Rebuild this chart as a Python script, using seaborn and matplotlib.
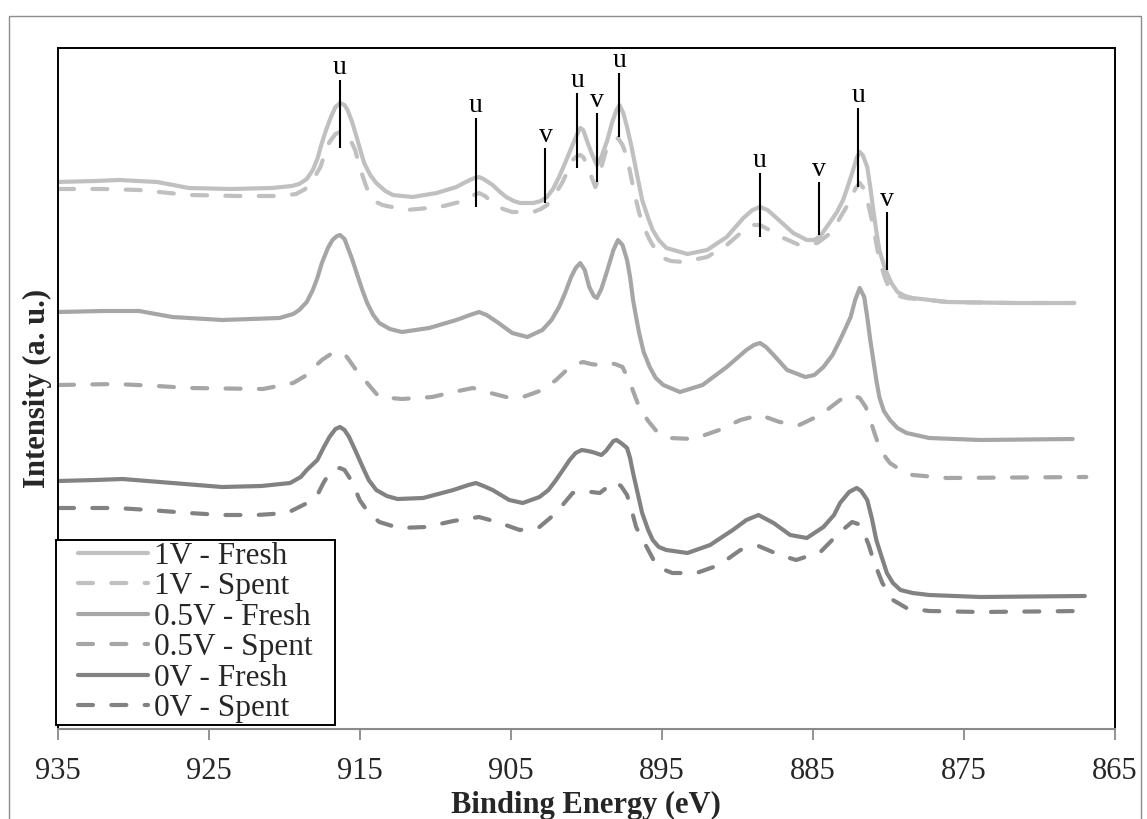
import matplotlib
matplotlib.use("Agg")
import matplotlib.pyplot as plt
import seaborn as sns
from matplotlib.lines import Line2D
from matplotlib.legend_handler import HandlerLine2D
from matplotlib.patches import Rectangle

# ---------------- data: (binding energy eV, intensity a.u.) ----------------
fresh_1v = [(935.0, 563), (932.5, 564), (930.9, 565), (928.4, 563), (926.3, 557), (923.5, 556), (920.8, 557),
            (919.5, 559), (919.0, 561), (918.5, 566), (918.1, 575), (917.8, 586), (917.5, 602), (917.2, 616),
            (916.9, 628), (916.6, 638), (916.3, 642), (916.0, 640), (915.8, 635), (915.5, 623), (915.2, 608),
            (914.9, 592), (914.7, 582), (914.3, 570), (913.9, 562), (913.3, 554), (912.8, 550), (911.5, 548),
            (909.9, 552), (908.6, 558), (908.1, 562), (907.7, 565), (907.4, 567), (907.1, 568), (906.8, 566),
            (906.5, 563), (906.2, 560), (905.7, 553), (905.3, 548), (904.8, 544), (904.4, 542), (903.5, 542),
            (903.0, 544), (902.6, 548), (902.2, 556), (901.8, 568), (901.4, 582), (901.1, 593), (900.8, 604),
            (900.6, 611), (900.4, 617), (900.2, 615), (899.9, 602), (899.6, 590), (899.3, 580), (899.0, 588),
            (898.6, 605), (898.3, 622), (898.0, 635), (897.8, 640), (897.55, 632), (897.3, 618), (897.0, 598),
            (896.7, 575), (896.3, 545), (895.9, 527), (895.6, 515), (895.2, 505), (894.7, 497), (893.3, 491),
            (892.0, 495), (890.7, 508), (889.6, 527), (889.0, 535), (888.5, 538), (888.0, 535), (887.4, 527),
            (886.3, 512), (885.4, 505), (884.9, 505), (884.5, 509), (883.9, 522), (883.4, 533), (883.0, 545),
            (882.7, 558), (882.4, 572), (882.1, 587), (881.9, 593), (881.7, 590), (881.4, 578), (881.2, 558),
            (881.0, 535), (880.8, 514), (880.6, 495), (880.3, 480), (880.1, 472), (879.8, 462), (879.4, 453),
            (878.9, 449), (878.4, 447), (876.1, 443), (871.8, 442), (867.7, 442)]

spent_1v = [(934.9, 556), (932.0, 556), (929.6, 555), (926.3, 550), (923.0, 549), (920.3, 549), (919.2, 551),
            (918.6, 556), (918.3, 562), (917.9, 570), (917.6, 578), (917.3, 591), (917.0, 603), (916.6, 611),
            (916.3, 613), (916.0, 612), (915.7, 608), (915.3, 595), (915.0, 578), (914.6, 560), (914.3, 548),
            (913.9, 543), (913.5, 540), (911.9, 535), (909.7, 538), (908.4, 543), (907.6, 549), (907.1, 552),
            (906.7, 549), (906.2, 542), (905.5, 536), (904.9, 533), (903.5, 533), (903.0, 536), (902.6, 540),
            (902.1, 550), (901.6, 562), (901.2, 575), (900.9, 585), (900.6, 589), (900.4, 590), (900.2, 588),
            (900.0, 582), (899.7, 570), (899.4, 558), (899.2, 565), (899.0, 578), (898.7, 594), (898.4, 602),
            (898.1, 606), (897.9, 607), (897.6, 600), (897.3, 588), (897.1, 573), (896.9, 558), (896.5, 532),
            (896.1, 515), (895.8, 505), (895.4, 495), (895.1, 488), (894.4, 484), (893.6, 483), (892.0, 488),
            (890.7, 500), (889.4, 517), (888.9, 520), (888.5, 520), (888.0, 516), (887.4, 510), (885.9, 500),
            (884.7, 502), (884.0, 510), (883.4, 522), (882.9, 535), (882.5, 545), (882.2, 556), (881.9, 562),
            (881.6, 556), (881.4, 545), (881.2, 532), (881.0, 518), (880.6, 485), (880.2, 466), (879.9, 455),
            (879.3, 449), (878.8, 447), (876.1, 443), (871.8, 442), (867.7, 442)]

fresh_05v = [(935.0, 433), (932.0, 434), (929.6, 434), (927.4, 428), (924.1, 425), (920.3, 427), (919.4, 431),
             (919.0, 435), (918.5, 443), (918.1, 455), (917.8, 467), (917.5, 482), (917.1, 497), (916.8, 505),
             (916.5, 509), (916.3, 510), (916.0, 506), (915.8, 498), (915.5, 486), (915.2, 472), (914.8, 454),
             (914.5, 442), (914.1, 430), (913.7, 422), (913.0, 416), (912.2, 413), (910.4, 417), (908.6, 425),
             (907.7, 430), (907.1, 433), (906.6, 430), (905.9, 423), (904.9, 412), (903.9, 408), (902.9, 415),
             (902.3, 425), (901.8, 438), (901.4, 452), (901.0, 468), (900.7, 477), (900.4, 482), (900.1, 475),
             (899.8, 458), (899.5, 449), (899.3, 447), (899.0, 456), (898.6, 475), (898.2, 495), (897.9, 505),
             (897.6, 500), (897.3, 485), (897.1, 468), (896.9, 445), (896.7, 428), (896.5, 412), (896.2, 393),
             (895.8, 378), (895.4, 367), (894.9, 360), (893.8, 353), (892.3, 360), (890.7, 378), (889.4, 395),
             (888.9, 400), (888.5, 402), (888.1, 398), (887.6, 390), (886.7, 375), (885.5, 368), (884.9, 370),
             (884.3, 378), (883.7, 390), (883.2, 405), (882.8, 418), (882.5, 428), (882.2, 445), (881.9, 457),
             (881.6, 448), (881.4, 428), (881.2, 405), (881.0, 385), (880.8, 365), (880.6, 348), (880.3, 334),
             (879.9, 325), (879.4, 317), (878.8, 312), (877.3, 307), (873.9, 305), (867.8, 306)]

spent_05v = [(934.9, 360), (931.1, 361), (928.4, 359), (926.3, 357), (921.4, 356), (919.4, 362), (918.5, 370),
             (918.0, 378), (917.5, 385), (916.9, 391), (916.3, 393), (915.9, 389), (915.7, 385), (915.1, 372),
             (914.5, 362), (914.0, 353), (913.7, 348), (912.2, 346), (910.2, 348), (908.8, 353), (907.5, 357),
             (906.6, 353), (905.3, 348), (904.2, 348), (902.9, 355), (902.0, 365), (901.3, 375), (900.7, 381),
             (900.2, 383), (899.7, 381), (899.2, 380), (898.6, 382), (898.1, 381), (897.6, 378), (897.1, 362),
             (896.8, 350), (896.5, 338), (895.9, 324), (895.3, 313), (894.5, 307), (892.9, 306), (891.2, 315),
             (889.8, 325), (888.5, 330), (887.2, 323), (885.9, 320), (884.5, 330), (883.2, 345), (882.4, 350),
             (881.9, 347), (881.5, 338), (881.2, 325), (880.9, 311), (880.6, 298), (880.2, 288), (879.9, 282),
             (879.2, 275), (878.4, 270), (876.1, 267), (866.9, 268)]

fresh_0v = [(935.0, 264), (932.5, 265), (930.7, 266), (927.4, 262), (924.1, 258), (921.5, 259), (919.6, 262),
            (918.9, 268), (918.5, 275), (917.8, 285), (917.4, 297), (917.0, 308), (916.6, 316), (916.3, 318),
            (916.0, 315), (915.7, 308), (915.3, 295), (914.8, 278), (914.4, 265), (913.9, 255), (913.2, 249),
            (912.5, 246), (910.8, 247), (908.8, 255), (907.8, 260), (907.3, 262), (906.8, 259), (906.2, 255),
            (905.1, 245), (904.2, 242), (903.1, 248), (902.5, 255), (902.0, 265), (901.5, 276), (901.1, 285),
            (900.7, 292), (900.3, 295), (899.9, 294), (899.6, 293), (899.0, 290), (898.7, 294), (898.4, 300),
            (898.2, 304), (898.0, 305), (897.7, 302), (897.3, 297), (897.1, 287), (896.9, 272), (896.6, 252),
            (896.3, 232), (895.9, 215), (895.6, 205), (895.2, 198), (894.7, 195), (893.3, 192), (891.8, 200),
            (890.3, 215), (889.4, 225), (888.6, 230), (887.6, 222), (886.5, 210), (885.4, 207), (884.3, 218),
            (883.6, 230), (883.2, 242), (882.6, 253), (882.1, 257), (881.8, 254), (881.4, 245), (881.1, 227),
            (880.8, 205), (880.4, 186), (880.1, 172), (879.7, 162), (879.2, 155), (878.4, 152), (877.3, 150),
            (873.9, 148), (867.0, 149)]

spent_0v = [(934.9, 237), (931.1, 237), (928.9, 235), (926.3, 232), (924.1, 230), (921.8, 230), (919.8, 232),
            (919.4, 235), (918.6, 241), (917.8, 250), (917.4, 262), (917.0, 272), (916.6, 276), (916.3, 277),
            (916.0, 275), (915.7, 268), (915.3, 256), (915.0, 245), (914.4, 232), (913.7, 223), (912.4, 217),
            (910.6, 218), (908.8, 224), (907.1, 228), (905.9, 223), (904.4, 215), (903.1, 218), (902.0, 232),
            (901.4, 243), (900.9, 252), (900.2, 254), (899.1, 252), (898.6, 258), (898.1, 263), (897.7, 259),
            (897.3, 250), (897.0, 235), (896.7, 218), (896.3, 206), (896.0, 198), (895.3, 178), (894.3, 172),
            (892.7, 172), (891.2, 180), (889.8, 195), (888.6, 199), (887.2, 190), (886.1, 185), (884.5, 193),
            (883.2, 213), (882.4, 223), (882.0, 221), (881.7, 215), (881.3, 200), (881.0, 185), (880.4, 162),
            (879.7, 145), (878.8, 137), (877.3, 134), (873.9, 133), (867.1, 134)]

series_labels = ["1V - Fresh", "1V - Spent", "0.5V - Fresh", "0.5V - Spent", "0V - Fresh", "0V - Spent"]
series_data = [fresh_1v, spent_1v, fresh_05v, spent_05v, fresh_0v, spent_0v]

# peak markers
peak_E = [916.3, 907.3, 902.7, 900.6, 899.3, 897.8, 888.5, 884.6, 882.0, 880.1]
peak_lab = ["u", "u", "v", "u", "v", "u", "u", "v", "u", "v"]
peak_top = [665, 627, 597, 652, 632, 672, 572, 563, 637, 533]
peak_bot = [597, 538, 542, 577, 563, 608, 508, 510, 558, 475]

x_ticks = [935, 925, 915, 905, 895, 885, 875, 865]

# ---------------- styling ----------------
sns.set_style("white")
plt.rcParams["font.family"] = ["Liberation Serif", "DejaVu Serif"]

colors = ["#c0c0c0", "#c0c0c0", "#a6a6a6", "#a6a6a6", "#828282", "#828282"]
dashed = [False, True, False, True, False, True]

W, H = 1147, 819
fig = plt.figure(figsize=(W / 100, H / 100), dpi=100)
ax = fig.add_axes([57.5 / W, 1 - 729 / H, (1115 - 57.5) / W, (729 - 48) / H])

for data, lab, c, d in zip(series_data, series_labels, colors, dashed):
    E = [p[0] for p in data]
    I = [p[1] for p in data]
    kw = dict(linestyle=(0, (3.6, 4.4)), dash_capstyle="round") if d else dict(solid_capstyle="round")
    sns.lineplot(x=E, y=I, ax=ax, color=c, linewidth=3.0, label=lab,
                 estimator=None, sort=False, solid_joinstyle="round", dash_joinstyle="round", **kw)

ax.vlines(peak_E, peak_bot, peak_top, colors="black", linewidth=1.5, zorder=5)
for e, t, lab in zip(peak_E, peak_top, peak_lab):
    ax.annotate(lab, (e, t), xytext=(0, 4), textcoords="offset points",
                ha="center", va="baseline", fontsize=20, color="black")

ax.set_xlim(935, 865)
ax.set_ylim(16, 697)
ax.set_xticks(x_ticks)
ax.set_xticklabels([str(v) for v in x_ticks], fontsize=22)
ax.set_yticks([])
ax.tick_params(axis="x", direction="out", length=8, width=1.3, color="#8a8a8a", pad=12, bottom=True)

for s in ["top", "right", "left"]:
    ax.spines[s].set_color("black")
    ax.spines[s].set_linewidth(1.4)
ax.spines["bottom"].set_color("#8a8a8a")
ax.spines["bottom"].set_linewidth(1.5)

ax.set_xlabel("Binding Energy (eV)", fontsize=22, fontweight="bold", labelpad=4)
ax.set_ylabel("Intensity (a. u.)", fontsize=22, fontweight="bold", labelpad=4)

leg = ax.legend(loc="lower left", bbox_to_anchor=(-0.0014, 0.006, 0.2638, 0), mode="expand",
                borderaxespad=0, fontsize=22.5, frameon=True, fancybox=False, framealpha=1,
                edgecolor="black", borderpad=0.05, labelspacing=0.05, handlelength=2.9,
                handletextpad=0.2, handler_map={Line2D: HandlerLine2D(xpad=0.64)})
leg.get_frame().set_linewidth(1.4)

# outer grey frame of the figure
fig.add_artist(Rectangle((9 / W, -0.05), (1141 - 9) / W, (H - 16) / H + 0.05,
                         transform=fig.transFigure, fill=False, edgecolor="#8c8c8c", linewidth=1.0))

fig.savefig("out.png", dpi=100)
